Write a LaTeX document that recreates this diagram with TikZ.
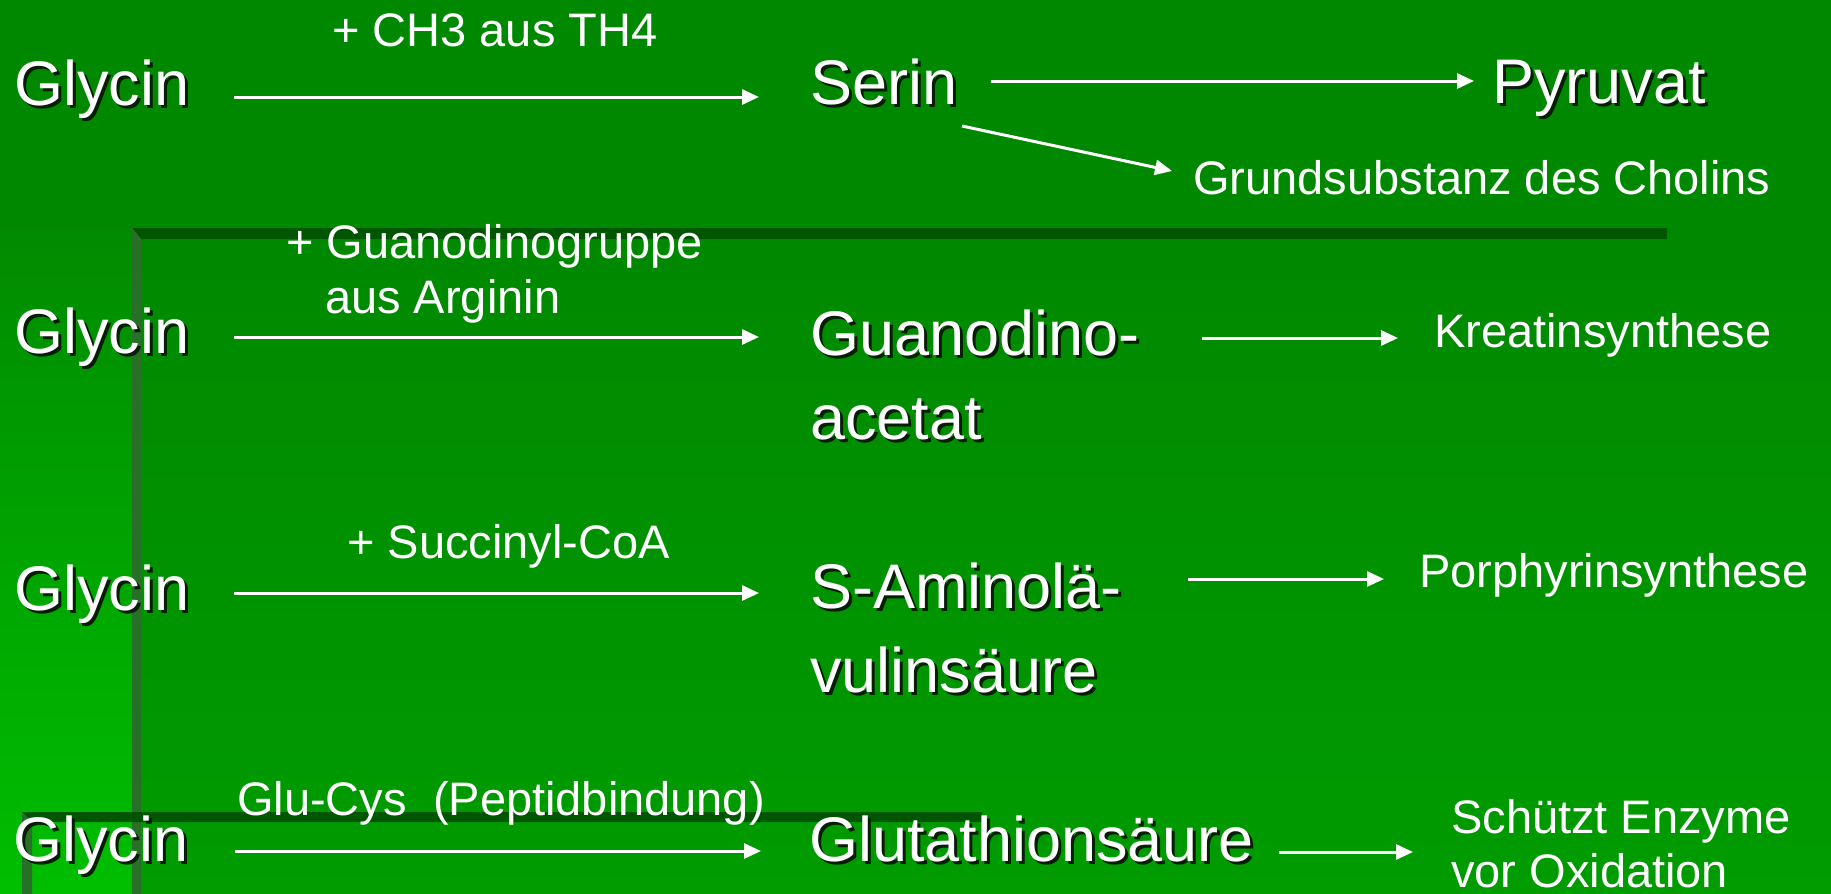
\documentclass[tikz,border=0pt]{standalone}
\usepackage{fontspec}
\setmainfont{Liberation Sans}
\usetikzlibrary{arrows.meta}
\definecolor{bgtop}{RGB}{0,136,0}
\definecolor{bgmid}{RGB}{0,139,0}
\definecolor{bgbot}{RGB}{0,190,0}
\definecolor{intop}{RGB}{0,136,0}
\definecolor{inbot}{RGB}{0,156,0}
\definecolor{barc}{RGB}{0,85,0}
\definecolor{edgec}{RGB}{40,112,40}
\definecolor{shc}{RGB}{8,30,8}
\newcommand{\shd}[1]{\leavevmode\rlap{\kern3pt\raisebox{-3pt}{\textcolor{shc}{#1}}}#1}
\tikzset{
  big/.style={font=\fontsize{63}{84}\selectfont, text=white, inner sep=0pt, anchor=base west},
  small/.style={font=\fontsize{47}{55}\selectfont, text=white, inner sep=0pt, anchor=base west},
  arr/.style={white, line width=3pt, -{Triangle[length=17pt,width=15pt]}},
}
\begin{document}
\begin{tikzpicture}[x=1pt,y=-1pt]
\useasboundingbox (0,0) rectangle (1831,894);
% background
\fill[bgtop] (0,0) rectangle (1831,228);
\shade[top color=bgmid, bottom color=bgbot] (0,228) rectangle (1831,894);
\shade[top color=intop, bottom color=inbot] (132,228) rectangle (1831,894);
\fill[barc] (132,228) -- (1667,228) -- (1667,239) -- (141,239) -- cycle;
\fill[edgec] (132,228) -- (141,239) -- (141,894) -- (132,894) -- cycle;
\fill[barc] (22,812) -- (982,812) -- (982,822) -- (32,822) -- cycle;
\fill[edgec] (22,812) -- (32,822) -- (32,894) -- (22,894) -- cycle;

% row 1
\node[big] (g1) at (14,105) {\shd{Glycin}};
\node[small] (l1) at (332,46) {+ CH3 aus TH4};
\node[big] (serin) at (810,104) {\shd{Serin}};
\node[big] (pyr) at (1492,103) {\shd{Pyruvat}};
\node[small] (chol) at (1193,194) {Grundsubstanz des Cholins};
\coordinate (a1s) at (234,97);  \coordinate (a1e) at (759,97);
\coordinate (a2s) at (991,81);  \coordinate (a2e) at (1474,81);
\coordinate (a3s) at (962,126); \coordinate (a3e) at (1172,171);
\draw[arr] (a1s) -- (a1e);
\draw[arr] (a2s) -- (a2e);
\draw[arr] (a3s) -- (a3e);

% row 2
\node[big] (g2) at (14,353) {\shd{Glycin}};
\node[small] (l2) at (286,258) {\begin{tabular}[t]{@{}l@{}}+ Guanodinogruppe\\\hspace*{39pt}aus Arginin\end{tabular}};
\node[big] (guan) at (810,355) {\begin{tabular}[t]{@{}l@{}}\shd{Guanodino-}\\\shd{acetat}\end{tabular}};
\node[small] (krea) at (1434,347) {Kreatinsynthese};
\coordinate (b1s) at (234,337);  \coordinate (b1e) at (759,337);
\coordinate (b2s) at (1202,338); \coordinate (b2e) at (1398,338);
\draw[arr] (b1s) -- (b1e);
\draw[arr] (b2s) -- (b2e);

% row 3
\node[big] (g3) at (14,610) {\shd{Glycin}};
\node[small] (l3) at (347,558) {+ Succinyl-CoA};
\node[big] (sam) at (810,608) {\begin{tabular}[t]{@{}l@{}}\shd{S-Aminolä-}\\\shd{vulinsäure}\end{tabular}};
\node[small] (porph) at (1419,587) {Porphyrinsynthese};
\coordinate (c1s) at (234,593);  \coordinate (c1e) at (759,593);
\coordinate (c2s) at (1188,579); \coordinate (c2e) at (1384,579);
\draw[arr] (c1s) -- (c1e);
\draw[arr] (c2s) -- (c2e);

% row 4
\node[big] (g4) at (13,861) {\shd{Glycin}};
\node[small] (l4) at (237,815) {Glu-Cys\ \ (Peptidbindung)};
\node[big] (glut) at (809,861) {\shd{Glutathionsäure}};
\node[small, font=\fontsize{47}{54}\selectfont] (schutz) at (1451,833) {\begin{tabular}[t]{@{}l@{}}Schützt Enzyme\\vor Oxidation\end{tabular}};
\coordinate (d1s) at (235,851);  \coordinate (d1e) at (761,851);
\coordinate (d2s) at (1279,852); \coordinate (d2e) at (1413,852);
\draw[arr] (d1s) -- (d1e);
\draw[arr] (d2s) -- (d2e);
\end{tikzpicture}
\end{document}
